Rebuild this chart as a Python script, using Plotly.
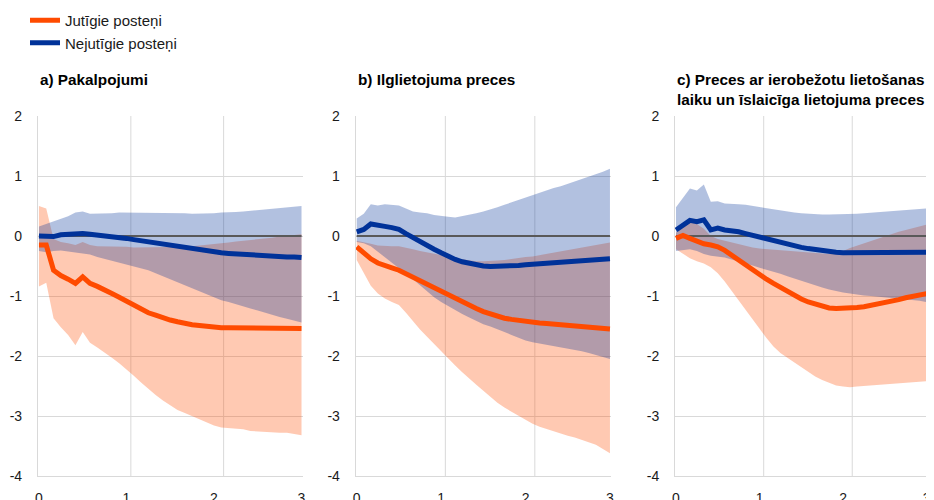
import plotly.graph_objects as go

# horizonte gados (mēneša solis, 0..36 mēneši)
months = list(range(37))
horizon = [m / 12 for m in months]

series_names = ["Jutīgie posteņi", "Nejutīgie posteņi"]
panel_titles = ["<b>a) Pakalpojumi</b>",
                "<b>b) Ilglietojuma preces</b>",
                "<b>c) Preces ar ierobežotu lietošanas<br>laiku un īslaicīga lietojuma preces</b>"]
y_ticks = [-4, -3, -2, -1, 0, 1, 2]
y_ticktext = ["-4", "-3", "-2", "-1", "0", "1", "2"]
x_ticks = [0, 1, 2, 3]

# a) Pakalpojumi
a_sens = [-0.15, -0.15, -0.57, -0.66, -0.72, -0.79, -0.68, -0.79, -0.84, -0.89, -0.96, -1.02, -1.09,
          -1.16, -1.22, -1.28, -1.32, -1.37, -1.40, -1.43, -1.46, -1.48, -1.49, -1.51, -1.52,
          -1.53, -1.53, -1.53, -1.53, -1.53, -1.52, -1.52, -1.52, -1.52, -1.53, -1.53, -1.54]
a_sens_hi = [0.50, 0.46, -0.05, -0.10, -0.12, -0.15, -0.10, -0.15, -0.17, -0.17, -0.18, -0.18, -0.18,
             -0.19, -0.19, -0.19, -0.19, -0.19, -0.18, -0.18, -0.18, -0.17, -0.16, -0.14, -0.13,
             -0.12, -0.11, -0.09, -0.08, -0.07, -0.05, -0.04, -0.03, -0.01, 0.00, 0.02, 0.03]
a_sens_lo = [-0.84, -0.78, -1.37, -1.52, -1.65, -1.82, -1.60, -1.78, -1.86, -1.94, -2.03, -2.12, -2.22,
             -2.33, -2.44, -2.55, -2.65, -2.74, -2.82, -2.90, -2.95, -3.00, -3.06, -3.11, -3.16,
             -3.19, -3.20, -3.20, -3.22, -3.25, -3.26, -3.26, -3.27, -3.28, -3.28, -3.30, -3.32]
a_insens = [0.00, -0.01, -0.01, 0.02, 0.03, 0.04, 0.04, 0.03, 0.02, 0.01, 0.00, -0.01, -0.04,
            -0.06, -0.08, -0.10, -0.12, -0.14, -0.16, -0.18, -0.20, -0.22, -0.24, -0.25, -0.27,
            -0.28, -0.29, -0.30, -0.31, -0.32, -0.33, -0.34, -0.34, -0.35, -0.35, -0.35, -0.36]
a_insens_hi = [0.16, 0.20, 0.25, 0.29, 0.33, 0.39, 0.41, 0.37, 0.37, 0.38, 0.38, 0.39, 0.39,
               0.39, 0.39, 0.38, 0.38, 0.38, 0.38, 0.38, 0.38, 0.37, 0.37, 0.38, 0.38,
               0.39, 0.39, 0.40, 0.41, 0.42, 0.44, 0.45, 0.46, 0.47, 0.48, 0.49, 0.50]
a_insens_lo = [-0.25, -0.27, -0.25, -0.24, -0.26, -0.28, -0.29, -0.31, -0.35, -0.38, -0.41, -0.44, -0.47,
               -0.50, -0.53, -0.57, -0.62, -0.67, -0.73, -0.78, -0.83, -0.88, -0.93, -0.98, -1.03,
               -1.07, -1.10, -1.14, -1.17, -1.21, -1.24, -1.28, -1.31, -1.35, -1.38, -1.41, -1.44]

# b) Ilglietojuma preces
b_sens = [-0.18, -0.29, -0.38, -0.45, -0.50, -0.53, -0.57, -0.63, -0.69, -0.75, -0.81, -0.87, -0.93,
          -0.99, -1.04, -1.10, -1.16, -1.21, -1.26, -1.30, -1.34, -1.37, -1.39, -1.41, -1.43,
          -1.44, -1.45, -1.46, -1.47, -1.48, -1.49, -1.50, -1.51, -1.51, -1.52, -1.53, -1.55]
b_sens_hi = [-0.08, -0.10, -0.13, -0.16, -0.17, -0.17, -0.17, -0.19, -0.22, -0.25, -0.27, -0.30, -0.32,
             -0.34, -0.37, -0.39, -0.41, -0.42, -0.42, -0.42, -0.41, -0.40, -0.38, -0.37, -0.35,
             -0.34, -0.32, -0.30, -0.28, -0.25, -0.23, -0.21, -0.19, -0.17, -0.15, -0.13, -0.11]
b_sens_lo = [-0.40, -0.62, -0.83, -0.96, -1.04, -1.10, -1.15, -1.28, -1.42, -1.56, -1.68, -1.80, -1.93,
             -2.04, -2.16, -2.27, -2.38, -2.48, -2.58, -2.68, -2.78, -2.86, -2.93, -3.00, -3.07,
             -3.13, -3.18, -3.22, -3.26, -3.30, -3.33, -3.36, -3.40, -3.44, -3.48, -3.55, -3.62]
b_insens = [0.07, 0.11, 0.20, 0.17, 0.16, 0.14, 0.11, 0.04, -0.03, -0.09, -0.15, -0.22, -0.28,
            -0.34, -0.39, -0.43, -0.46, -0.48, -0.50, -0.51, -0.51, -0.51, -0.50, -0.49, -0.48,
            -0.47, -0.46, -0.45, -0.44, -0.43, -0.42, -0.41, -0.40, -0.39, -0.39, -0.38, -0.38]
b_insens_hi = [0.29, 0.37, 0.53, 0.51, 0.53, 0.52, 0.51, 0.46, 0.41, 0.39, 0.38, 0.35, 0.33,
               0.32, 0.31, 0.33, 0.35, 0.38, 0.41, 0.44, 0.48, 0.52, 0.56, 0.60, 0.65,
               0.69, 0.73, 0.77, 0.80, 0.83, 0.87, 0.90, 0.94, 0.98, 1.03, 1.07, 1.12]
b_insens_lo = [-0.10, -0.12, -0.17, -0.26, -0.35, -0.44, -0.53, -0.62, -0.72, -0.82, -0.92, -1.02, -1.10,
               -1.17, -1.23, -1.30, -1.36, -1.42, -1.47, -1.51, -1.55, -1.60, -1.65, -1.70, -1.74,
               -1.77, -1.79, -1.81, -1.83, -1.85, -1.87, -1.89, -1.92, -1.95, -1.98, -2.01, -2.05]

# c) Preces ar ierobežotu lietošanas laiku un īslaicīga lietojuma preces
c_sens = [-0.04, 0.01, -0.04, -0.09, -0.13, -0.15, -0.18, -0.24, -0.32, -0.42, -0.50, -0.57, -0.65,
          -0.72, -0.79, -0.86, -0.93, -0.99, -1.05, -1.10, -1.14, -1.18, -1.20, -1.21, -1.21,
          -1.20, -1.19, -1.18, -1.16, -1.14, -1.12, -1.09, -1.06, -1.03, -1.00, -0.98, -0.96]
c_sens_hi = [0.05, 0.20, 0.24, 0.20, 0.12, 0.00, -0.05, -0.08, -0.11, -0.14, -0.17, -0.19, -0.21,
             -0.22, -0.23, -0.24, -0.25, -0.26, -0.27, -0.28, -0.29, -0.30, -0.30, -0.28, -0.25,
             -0.20, -0.16, -0.12, -0.08, -0.04, 0.00, 0.03, 0.07, 0.10, 0.13, 0.16, 0.19]
c_sens_lo = [-0.22, -0.30, -0.37, -0.42, -0.46, -0.52, -0.62, -0.76, -0.92, -1.08, -1.24, -1.40, -1.56,
             -1.70, -1.84, -1.95, -2.03, -2.11, -2.19, -2.27, -2.34, -2.40, -2.45, -2.49, -2.51,
             -2.52, -2.51, -2.50, -2.49, -2.48, -2.47, -2.46, -2.45, -2.44, -2.43, -2.42, -2.42]
c_insens = [0.10, 0.18, 0.26, 0.24, 0.27, 0.10, 0.13, 0.10, 0.09, 0.07, 0.04, 0.01, -0.02,
            -0.06, -0.09, -0.12, -0.15, -0.17, -0.19, -0.21, -0.23, -0.25, -0.26, -0.27, -0.28,
            -0.28, -0.28, -0.28, -0.28, -0.28, -0.28, -0.28, -0.28, -0.27, -0.27, -0.27, -0.27]
c_insens_hi = [0.48, 0.63, 0.79, 0.76, 0.86, 0.57, 0.58, 0.54, 0.54, 0.53, 0.52, 0.50, 0.49,
               0.47, 0.45, 0.43, 0.41, 0.39, 0.38, 0.37, 0.37, 0.36, 0.36, 0.36, 0.36,
               0.36, 0.37, 0.38, 0.39, 0.40, 0.41, 0.42, 0.43, 0.44, 0.44, 0.45, 0.46]
c_insens_lo = [-0.25, -0.24, -0.22, -0.25, -0.30, -0.33, -0.34, -0.36, -0.39, -0.42, -0.45, -0.49, -0.53,
               -0.56, -0.60, -0.63, -0.67, -0.71, -0.75, -0.79, -0.83, -0.86, -0.89, -0.92, -0.94,
               -0.96, -0.98, -0.99, -1.00, -1.01, -1.02, -1.03, -1.04, -1.05, -1.06, -1.08, -1.10]

ORANGE = "#FF4B00"
BLUE = "#003299"
ORANGE_BAND = "rgba(255,75,0,0.30)"
BLUE_BAND = "rgba(0,50,153,0.30)"
GRID = "#d9d9d9"
FONT = "Liberation Sans, Arial, sans-serif"

panels = [
    (a_sens, a_sens_lo, a_sens_hi, a_insens, a_insens_lo, a_insens_hi),
    (b_sens, b_sens_lo, b_sens_hi, b_insens, b_insens_lo, b_insens_hi),
    (c_sens, c_sens_lo, c_sens_hi, c_insens, c_insens_lo, c_insens_hi),
]
# lapas <body> atkāpe ir 8 px, tāpēc viss ir nobīdīts par 8 px pa kreisi un uz augšu
W, H, OFF = 934, 500, 8
x_px = [[37.9, 303.0], [355.7, 611.4], [675.0, 928.0]]
x_domains = [[(a - OFF) / W, (b - OFF) / W] for a, b in x_px]
y_domain = [(H - 476 + OFF) / H, (H - 116 + OFF) / H]
x_range = [-0.012, 3.017]
vgrid = [1.05, 2.11]

fig = go.Figure()
shapes = []
annotations = []

for i, (s, s_lo, s_hi, n, n_lo, n_hi) in enumerate(panels):
    sfx = "" if i == 0 else str(i + 1)
    xa, ya = "x" + sfx, "y" + sfx
    # joslas
    fig.add_trace(go.Scatter(x=horizon, y=s_lo, mode="lines", line=dict(width=0),
                             showlegend=False, hoverinfo="skip", xaxis=xa, yaxis=ya))
    fig.add_trace(go.Scatter(x=horizon, y=s_hi, mode="lines", line=dict(width=0),
                             fill="tonexty", fillcolor=ORANGE_BAND,
                             showlegend=False, hoverinfo="skip", xaxis=xa, yaxis=ya))
    fig.add_trace(go.Scatter(x=horizon, y=n_lo, mode="lines", line=dict(width=0),
                             showlegend=False, hoverinfo="skip", xaxis=xa, yaxis=ya))
    fig.add_trace(go.Scatter(x=horizon, y=n_hi, mode="lines", line=dict(width=0),
                             fill="tonexty", fillcolor=BLUE_BAND,
                             showlegend=False, hoverinfo="skip", xaxis=xa, yaxis=ya))
    # nulles līnija
    fig.add_trace(go.Scatter(x=[horizon[0], horizon[-1]], y=[0, 0], mode="lines",
                             line=dict(color="#595959", width=2),
                             showlegend=False, hoverinfo="skip", xaxis=xa, yaxis=ya))
    # vidējie
    fig.add_trace(go.Scatter(x=horizon, y=s, mode="lines", name=series_names[0],
                             line=dict(color=ORANGE, width=5), showlegend=(i == 0),
                             xaxis=xa, yaxis=ya))
    fig.add_trace(go.Scatter(x=horizon, y=n, mode="lines", name=series_names[1],
                             line=dict(color=BLUE, width=5), showlegend=(i == 0),
                             xaxis=xa, yaxis=ya))

    fig.layout["xaxis" + sfx] = dict(
        domain=x_domains[i], range=x_range, anchor=ya, tickvals=x_ticks,
        showgrid=False, zeroline=False, showline=True, linecolor=GRID, linewidth=1,
        ticks="outside", ticklen=9, tickcolor="rgba(0,0,0,0)", automargin=False,
        tickfont=dict(family=FONT, size=14, color="#1a1a1a"), fixedrange=True)
    fig.layout["yaxis" + sfx] = dict(
        domain=y_domain, range=[-4, 2], anchor=xa, tickvals=y_ticks, ticktext=y_ticktext,
        showgrid=True, gridcolor=GRID, gridwidth=1, zeroline=False,
        showline=True, linecolor=GRID, linewidth=1,
        ticks="outside", ticklen=12, tickcolor="rgba(0,0,0,0)", automargin=False,
        tickfont=dict(family=FONT, size=14, color="#1a1a1a"), fixedrange=True)

    for gx in vgrid:
        shapes.append(dict(type="line", xref=xa, yref=ya + " domain", x0=gx, x1=gx, y0=0, y1=1,
                           line=dict(color=GRID, width=1), layer="below"))

    annotations.append(dict(text=panel_titles[i], xref="paper", yref="paper",
                            x=x_domains[i][0], y=(H - 61) / H, xanchor="left", yanchor="top",
                            align="left", showarrow=False,
                            font=dict(family=FONT, size=15.3, color="#000000")))

fig.update_layout(
    width=W, height=H,
    margin=dict(l=0, r=0, t=0, b=0, autoexpand=False),
    paper_bgcolor="white", plot_bgcolor="white",
    font=dict(family=FONT, size=14, color="#1a1a1a"),
    shapes=shapes, annotations=annotations,
    legend=dict(x=17 / W, y=1.008, xanchor="left", yanchor="top", traceorder="normal",
                bgcolor="rgba(0,0,0,0)", font=dict(family=FONT, size=15, color="#1a1a1a"),
                tracegroupgap=0, itemwidth=30),
    showlegend=True,
)

fig.write_html("out.html")
